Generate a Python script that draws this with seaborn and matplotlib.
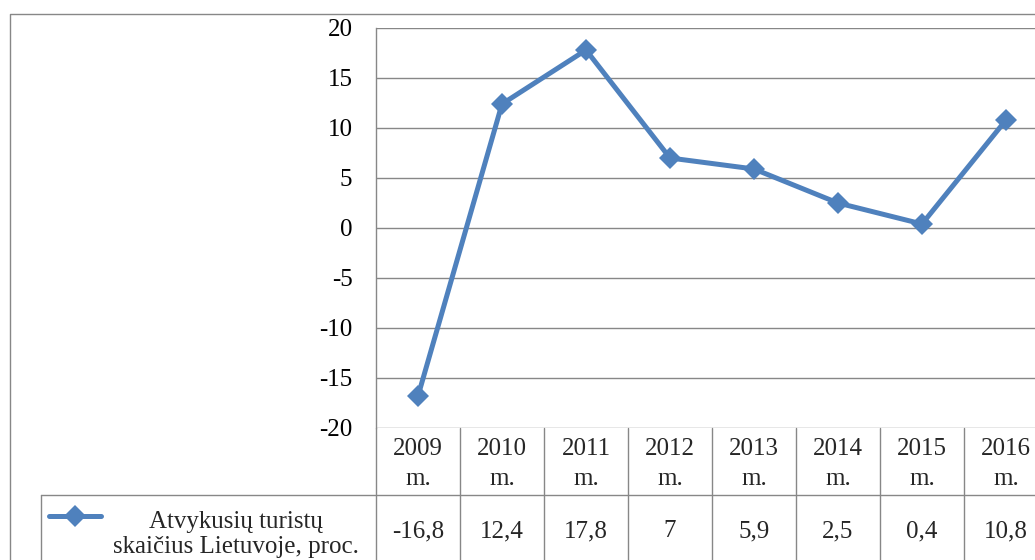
import matplotlib
matplotlib.use("Agg")
import matplotlib.pyplot as plt
import seaborn as sns
import pandas as pd
from matplotlib.lines import Line2D

years = ["2009", "2010", "2011", "2012", "2013", "2014", "2015", "2016"]
values = [-16.8, 12.4, 17.8, 7, 5.9, 2.5, 0.4, 10.8]
value_labels = ["-16,8", "12,4", "17,8", "7", "5,9", "2,5", "0,4", "10,8"]
series_name = ["Atvykusių turistų", "skaičius Lietuvoje, proc."]
yticks = [-20, -15, -10, -5, 0, 5, 10, 15, 20]

sns.set_theme(style="white")
plt.rcParams['font.family'] = ['Liberation Serif', 'DejaVu Serif']

W, H = 1035, 560
FS = 18
fig = plt.figure(figsize=(W / 100, H / 100), dpi=100)
ax = fig.add_axes([376 / W, (H - 428) / H, 672 / W, 400 / H])

df = pd.DataFrame({"year": years, "value": values})
blue = "#4F81BD"
grid_c = "#878787"
sns.lineplot(data=df, x="year", y="value", ax=ax, color=blue, linewidth=3.6,
             marker="D", markersize=11, markeredgewidth=0, sort=False, zorder=5)

ax.set_xlim(-0.5, len(years) - 0.5)
ax.set_ylim(-20, 20)
ax.set_yticks(yticks)
ax.set_yticklabels([str(t) for t in yticks], fontsize=FS, color="black")
ax.tick_params(axis="y", length=0, pad=17)
ax.set_xticks([])
ax.set_xlabel("")
ax.set_ylabel("")
for s in ["top", "right", "bottom"]:
    ax.spines[s].set_visible(False)
ax.spines["left"].set_color(grid_c)
ax.spines["left"].set_linewidth(1.0)
for t in yticks:
    ax.axhline(t, color=grid_c, linewidth=1.0, zorder=1)

# data table
xt = ax.get_xaxis_transform()
row_split = -0.1675
for i in range(len(years) + 1):
    ax.add_line(Line2D([i - 0.5, i - 0.5], [0, -0.5], transform=xt, color=grid_c,
                       linewidth=1.0, clip_on=False))
ax.add_line(Line2D([-0.5, len(years) - 0.5 + 1], [row_split, row_split], transform=xt,
                   color=grid_c, linewidth=1.0, clip_on=False))
for i, (y, v) in enumerate(zip(years, value_labels)):
    ax.text(i, -0.052, y, transform=xt, ha="center", va="center", fontsize=FS, clip_on=False)
    ax.text(i, -0.128, "m.", transform=xt, ha="center", va="center", fontsize=FS, clip_on=False)
    ax.text(i, -0.258, v, transform=xt, ha="center", va="center", fontsize=FS, clip_on=False)

# legend cell
ft = fig.transFigure
def fx(px): return px / W
def fy(py): return 1 - py / H
fig.add_artist(Line2D([fx(41), fx(376)], [fy(495), fy(495)], transform=ft, color=grid_c, linewidth=1.0))
fig.add_artist(Line2D([fx(41), fx(41)], [fy(495), fy(570)], transform=ft, color=grid_c, linewidth=1.0))
fig.add_artist(Line2D([fx(49), fx(101)], [fy(516), fy(516)], transform=ft, color=blue,
                      linewidth=3.6, solid_capstyle="round"))
fig.add_artist(Line2D([fx(75)], [fy(516)], transform=ft, color=blue, marker="D",
                      markersize=11, markeredgewidth=0))
fig.text(fx(236), fy(522), series_name[0], ha="center", va="center", fontsize=FS)
fig.text(fx(236), fy(547), series_name[1], ha="center", va="center", fontsize=FS)

# outer chart border
fig.add_artist(Line2D([fx(9.5), fx(9.5), fx(1100)], [fy(600), fy(13.5), fy(13.5)],
                      transform=ft, color=grid_c, linewidth=1.0))

fig.savefig("out.png", dpi=100)
